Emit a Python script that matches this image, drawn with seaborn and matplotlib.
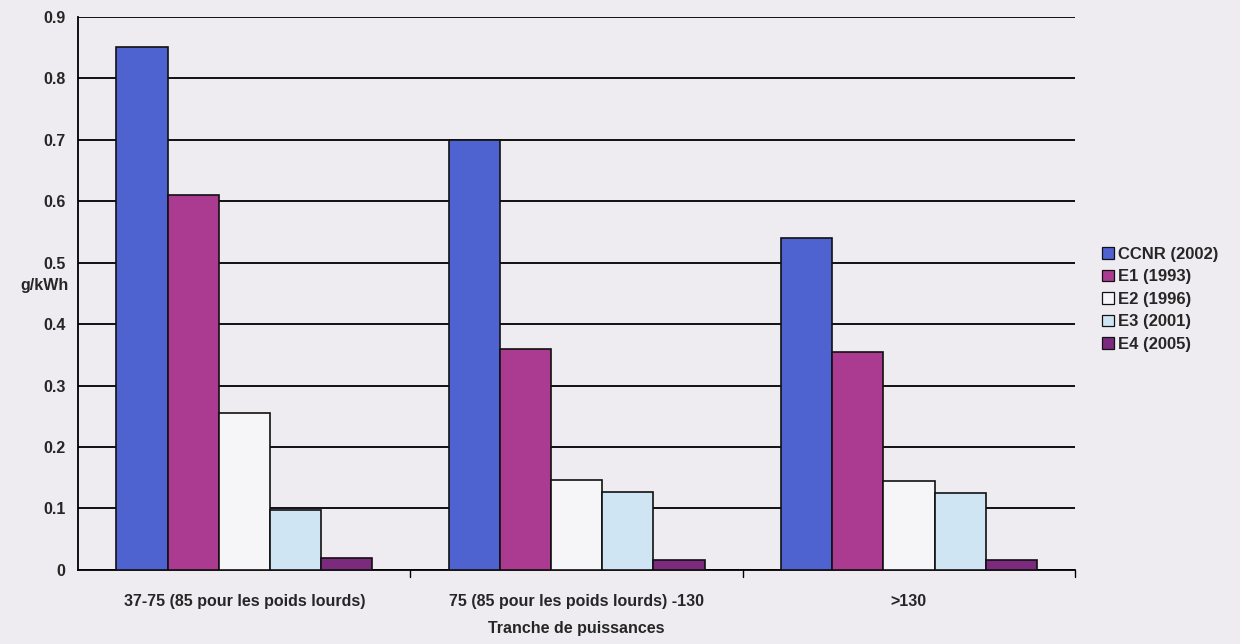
import matplotlib
matplotlib.use("Agg")
import matplotlib.pyplot as plt
import seaborn as sns
import pandas as pd
from matplotlib.patches import Patch

categories = ["37-75 (85 pour les poids lourds)", "75 (85 pour les poids lourds) -130", ">130"]
series = ["CCNR (2002)", "E1 (1993)", "E2 (1996)", "E3 (2001)", "E4 (2005)"]
ccnr = [0.85, 0.70, 0.54]
e1 = [0.61, 0.36, 0.355]
e2 = [0.255, 0.147, 0.145]
e3 = [0.098, 0.127, 0.125]
e4 = [0.02, 0.016, 0.016]
colors = ["#4e62d0", "#ab3b90", "#f6f5f8", "#cfe5f4", "#7b2a7e"]
yticks = [0, 0.1, 0.2, 0.3, 0.4, 0.5, 0.6, 0.7, 0.8, 0.9]
ytick_labels = ["0", "0.1", "0.2", "0.3", "0.4", "0.5", "0.6", "0.7", "0.8", "0.9"]

rows = []
for name, vals in zip(series, [ccnr, e1, e2, e3, e4]):
    for c, v in zip(categories, vals):
        rows.append({"Tranche": c, "Serie": name, "Valeur": v})
df = pd.DataFrame(rows)

sns.set_style("white")
plt.rcParams["font.family"] = ["Liberation Sans", "DejaVu Sans"]
plt.rcParams["font.weight"] = "bold"

bg = "#eeecf0"
fig = plt.figure(figsize=(12.4, 6.44), dpi=100, facecolor=bg)
ax = fig.add_axes([0.063, 0.115, 0.804, 0.859])
ax.set_facecolor(bg)

sns.barplot(data=df, x="Tranche", y="Valeur", hue="Serie", order=categories,
            hue_order=series, palette=colors, saturation=1, edgecolor="#111111",
            linewidth=1.2, width=0.77, gap=0, ax=ax, legend=False, zorder=3)

ax.set_ylim(0, 0.9)
ax.set_xlim(-0.5, 2.5)
ax.set_yticks(yticks)
ax.set_yticklabels(ytick_labels, fontsize=11.5, fontweight="bold")
ax.yaxis.grid(True, color="black", linewidth=1.3, zorder=0)
ax.set_axisbelow(True)
ax.tick_params(axis="y", length=5, width=1, color="black", direction="out", pad=4)

ax.set_xticks([0, 1, 2])
ax.set_xticklabels(categories, fontsize=11.5, fontweight="bold")
ax.tick_params(axis="x", length=0, pad=17)
for xb in [0.5, 1.5, 2.5]:
    ax.plot([xb, xb], [0, -0.012], color="black", linewidth=1, clip_on=False)

for side in ["top", "right"]:
    ax.spines[side].set_visible(False)
for side in ["left", "bottom"]:
    ax.spines[side].set_color("black")
    ax.spines[side].set_linewidth(1.3)

ax.set_xlabel("Tranche de puissances", fontsize=11.5, fontweight="bold", labelpad=9)
ax.set_ylabel("g/kWh", fontsize=11.5, fontweight="bold", rotation=0, labelpad=0)
ax.yaxis.set_label_coords(-0.034, 0.5)

handles = [Patch(facecolor=c, edgecolor="#111111", linewidth=0.9, label=s)
           for c, s in zip(colors, series)]
fig.legend(handles=handles, loc="center left", bbox_to_anchor=(0.882, 0.535),
           frameon=False, fontsize=12, handlelength=0.7, handleheight=0.7,
           handletextpad=0.25, labelspacing=0.45, borderpad=0)

fig.savefig("out.png", dpi=100, facecolor=bg)
